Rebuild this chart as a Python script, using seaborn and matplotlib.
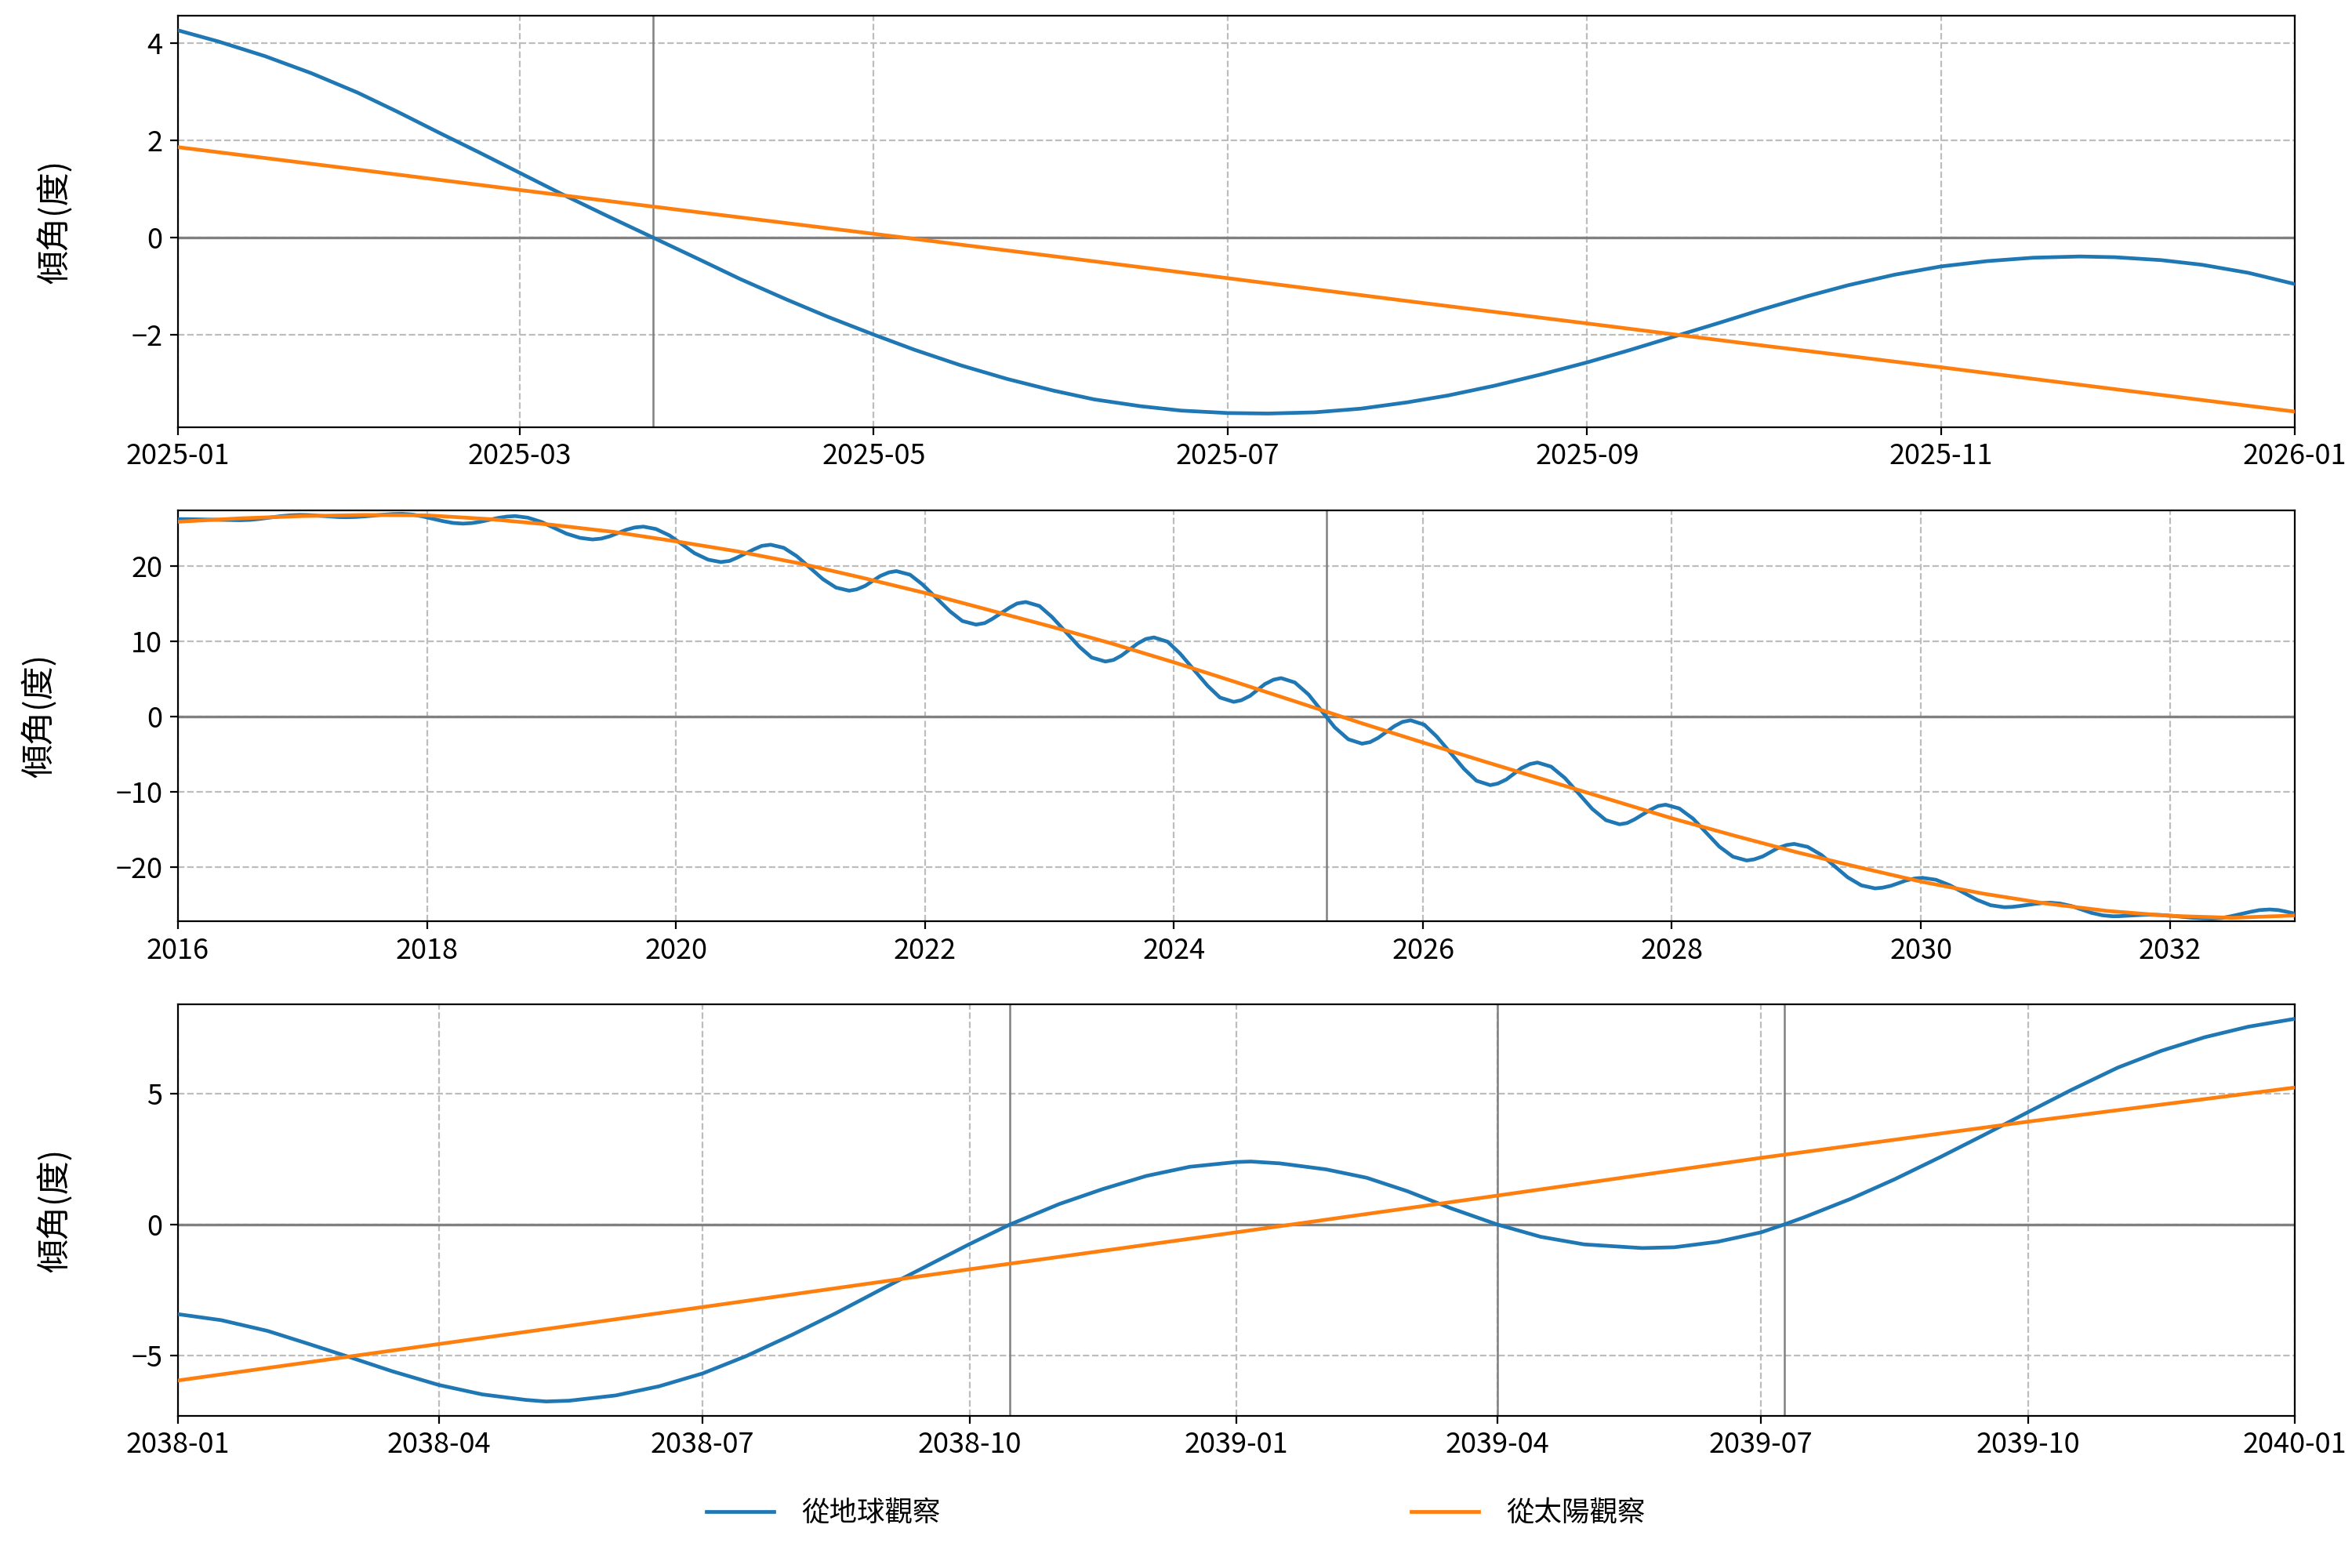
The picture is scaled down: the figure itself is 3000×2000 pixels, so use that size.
import numpy as np
import pandas as pd
import matplotlib
matplotlib.use('Agg')
import matplotlib.pyplot as plt
import matplotlib.dates as mdates
from matplotlib.ticker import MultipleLocator
import seaborn as sns

plt.rcParams['font.family'] = ['Noto Sans CJK TC', 'DejaVu Sans']
plt.rcParams['axes.unicode_minus'] = True

# ========== Data ==========
# Panel 1: 2025
top_earth_dates = ['2025-01-01', '2025-01-08', '2025-01-16', '2025-01-24', '2025-02-01', '2025-02-08',
                   '2025-02-15', '2025-02-22', '2025-03-01', '2025-03-08', '2025-03-16', '2025-03-24',
                   '2025-04-01', '2025-04-08', '2025-04-16', '2025-04-23', '2025-05-01', '2025-05-08',
                   '2025-05-16', '2025-05-24', '2025-06-01', '2025-06-08', '2025-06-16', '2025-06-23',
                   '2025-07-01', '2025-07-08', '2025-07-16', '2025-07-24', '2025-08-01', '2025-08-08',
                   '2025-08-16', '2025-08-24', '2025-09-01', '2025-09-08', '2025-09-16', '2025-09-24',
                   '2025-10-01', '2025-10-09', '2025-10-16', '2025-10-24', '2025-11-01', '2025-11-09',
                   '2025-11-17', '2025-11-25', '2025-12-01', '2025-12-09', '2025-12-16', '2025-12-24',
                   '2026-01-01']
top_earth_vals = [4.26, 4.03, 3.73, 3.38, 2.98, 2.58,
                  2.16, 1.75, 1.33, 0.91, 0.45, 0.00,
                  -0.45, -0.85, -1.27, -1.62, -1.99, -2.30,
                  -2.62, -2.90, -3.14, -3.32, -3.46, -3.55,
                  -3.60, -3.61, -3.586, -3.51, -3.38, -3.24,
                  -3.04, -2.81, -2.56, -2.32, -2.03, -1.74,
                  -1.48, -1.20, -0.976, -0.76, -0.59, -0.48,
                  -0.41, -0.385, -0.40, -0.46, -0.555, -0.72,
                  -0.95]
top_sun_dates = ['2025-01-01', '2025-02-01', '2025-03-01', '2025-04-01', '2025-05-01', '2025-06-01',
                 '2025-07-01', '2025-08-01', '2025-09-01', '2025-10-01', '2025-11-01', '2025-12-01',
                 '2026-01-01']
top_sun_vals = [1.86, 1.40, 0.98, 0.52, 0.08, -0.38, -0.83, -1.30, -1.76, -2.21, -2.66, -3.11, -3.57]
top_crossings = ['2025-03-24']
top_ylim = (-3.89, 4.56)

# Panel 2: 2016-2033 (decimal years)
mid_earth_years = [2016.00,
                   2016.083, 2016.167, 2016.25, 2016.333, 2016.417, 2016.50,
                   2016.58, 2016.66, 2016.74, 2016.82, 2016.90, 2016.98,
                   2017.04, 2017.10, 2017.17, 2017.23, 2017.29, 2017.35,
                   2017.425, 2017.50, 2017.575, 2017.65, 2017.725, 2017.80,
                   2017.88, 2017.96, 2018.045, 2018.13, 2018.21, 2018.29,
                   2018.36, 2018.43, 2018.50, 2018.57, 2018.64, 2018.71,
                   2018.81, 2018.92, 2019.02, 2019.12, 2019.23, 2019.33,
                   2019.40, 2019.47, 2019.535, 2019.60, 2019.67, 2019.74,
                   2019.84, 2019.95, 2020.05, 2020.15, 2020.26, 2020.36,
                   2020.43, 2020.49, 2020.56, 2020.63, 2020.69, 2020.76,
                   2020.865, 2020.97, 2021.075, 2021.18, 2021.285, 2021.39,
                   2021.45, 2021.52, 2021.58, 2021.64, 2021.71, 2021.77,
                   2021.88, 2021.98, 2022.09, 2022.20, 2022.30, 2022.41,
                   2022.48, 2022.54, 2022.61, 2022.68, 2022.74, 2022.81,
                   2022.92, 2023.02, 2023.13, 2023.24, 2023.34, 2023.45,
                   2023.515, 2023.58, 2023.645, 2023.71, 2023.775, 2023.84,
                   2023.95, 2024.05, 2024.16, 2024.27, 2024.37, 2024.48,
                   2024.54, 2024.61, 2024.67, 2024.73, 2024.80, 2024.86,
                   2024.97, 2025.08, 2025.185, 2025.29, 2025.40, 2025.51,
                   2025.575, 2025.64, 2025.705, 2025.77, 2025.835, 2025.90,
                   2026.01, 2026.11, 2026.22, 2026.33, 2026.43, 2026.54,
                   2026.60, 2026.67, 2026.73, 2026.79, 2026.86, 2026.92,
                   2027.03, 2027.14, 2027.25, 2027.36, 2027.47, 2027.58,
                   2027.64, 2027.70, 2027.765, 2027.83, 2027.89, 2027.95,
                   2028.06, 2028.17, 2028.275, 2028.38, 2028.49, 2028.60,
                   2028.66, 2028.73, 2028.79, 2028.85, 2028.92, 2028.98,
                   2029.09, 2029.20, 2029.305, 2029.41, 2029.52, 2029.63,
                   2029.69, 2029.76, 2029.82, 2029.88, 2029.95, 2030.01,
                   2030.12, 2030.23, 2030.34, 2030.45, 2030.56, 2030.67,
                   2030.73, 2030.79, 2030.855, 2030.92, 2030.98, 2031.04,
                   2031.12, 2031.21, 2031.29, 2031.37, 2031.46, 2031.54,
                   2031.59, 2031.64, 2031.69, 2031.74, 2031.79, 2031.84,
                   2031.92, 2032.01, 2032.09, 2032.17, 2032.26, 2032.34,
                   2032.42, 2032.49, 2032.57, 2032.65, 2032.72, 2032.80,
                   2032.87, 2032.93, 2033.00]
mid_earth_vals = [26.2,
                  26.19, 26.16, 26.13, 26.09, 26.06, 26.05,
                  26.10, 26.23, 26.40, 26.58, 26.70, 26.75,
                  26.73, 26.68, 26.60, 26.53, 26.47, 26.45,
                  26.48, 26.56, 26.675, 26.79, 26.87, 26.9,
                  26.81, 26.575, 26.25, 25.925, 25.69, 25.6,
                  25.67, 25.85, 26.10, 26.35, 26.53, 26.6,
                  26.39, 25.825, 25.05, 24.275, 23.71, 23.5,
                  23.61, 23.925, 24.35, 24.775, 25.09, 25.2,
                  24.885, 24.025, 22.85, 21.675, 20.815, 20.5,
                  20.65, 21.075, 21.65, 22.225, 22.65, 22.8,
                  22.39, 21.275, 19.75, 18.225, 17.11, 16.7,
                  16.87, 17.35, 18.0, 18.65, 19.13, 19.3,
                  18.82, 17.525, 15.75, 13.975, 12.68, 12.2,
                  12.40, 12.95, 13.70, 14.45, 15.0, 15.2,
                  14.67, 13.225, 11.25, 9.275, 7.83, 7.3,
                  7.51, 8.10, 8.90, 9.70, 10.29, 10.5,
                  9.93, 8.36, 6.225, 4.09, 2.52, 1.95,
                  2.16, 2.74, 3.525, 4.31, 4.89, 5.1,
                  4.52, 2.925, 0.75, -1.425, -3.02, -3.6,
                  -3.39, -2.825, -2.05, -1.275, -0.71, -0.5,
                  -1.08, -2.65, -4.80, -6.95, -8.52, -9.1,
                  -8.90, -8.35, -7.60, -6.85, -6.30, -6.1,
                  -6.65, -8.15, -10.2, -12.25, -13.75, -14.3,
                  -14.13, -13.65, -13.0, -12.35, -11.87, -11.7,
                  -12.20, -13.55, -15.4, -17.25, -18.60, -19.1,
                  -18.95, -18.55, -18.0, -17.45, -17.05, -16.9,
                  -17.30, -18.375, -19.85, -21.325, -22.40, -22.8,
                  -22.71, -22.45, -22.10, -21.75, -21.49, -21.4,
                  -21.66, -22.375, -23.35, -24.325, -25.04, -25.3,
                  -25.26, -25.15, -25.0, -24.85, -24.74, -24.7,
                  -24.82, -25.15, -25.6, -26.05, -26.38, -26.5,
                  -26.49, -26.45, -26.40, -26.35, -26.31, -26.3,
                  -26.33, -26.43, -26.55, -26.68, -26.77, -26.8,
                  -26.72, -26.50, -26.20, -25.90, -25.68, -25.6,
                  -25.68, -25.88, -26.15]
mid_sun_years = [2016.0, 2016.5, 2017.0, 2017.5, 2018.0, 2018.5, 2019.0, 2019.5, 2020.0, 2020.5,
                 2021.0, 2021.5, 2022.0, 2022.5, 2023.0, 2023.5, 2024.0, 2024.5, 2025.0, 2025.5,
                 2026.0, 2026.5, 2027.0, 2027.5, 2028.0, 2028.5, 2029.0, 2029.5, 2030.0, 2030.5,
                 2031.0, 2031.5, 2032.0, 2032.5, 2033.0]
mid_sun_vals = [25.85, 26.3, 26.6, 26.75, 26.7, 26.2, 25.45, 24.5, 23.25, 21.9,
                20.3, 18.4, 16.4, 14.2, 12.0, 9.7, 7.2, 4.55, 1.86, -0.85,
                -3.45, -6.0, -8.5, -11.0, -13.5, -15.8, -18.0, -20.0, -21.9, -23.5,
                -24.8, -25.8, -26.45, -26.7, -26.4]
mid_crossings = ['2025-03-24']
mid_ylim = (-27.2, 27.4)

# Panel 3: 2038-2039
bot_earth_dates = ['2038-01-01', '2038-01-16', '2038-02-01', '2038-02-15', '2038-03-01', '2038-03-16',
                   '2038-04-01', '2038-04-16', '2038-05-01', '2038-05-08', '2038-05-16', '2038-06-01',
                   '2038-06-16', '2038-07-01', '2038-07-16', '2038-08-01', '2038-08-16', '2038-09-01',
                   '2038-09-16', '2038-10-01', '2038-10-15', '2038-11-01', '2038-11-16', '2038-12-01',
                   '2038-12-16', '2039-01-01', '2039-01-06', '2039-01-16', '2039-02-01', '2039-02-15',
                   '2039-03-01', '2039-03-16', '2039-04-01', '2039-04-16', '2039-05-01', '2039-05-21',
                   '2039-06-01', '2039-06-16', '2039-07-01', '2039-07-09', '2039-07-16', '2039-08-01',
                   '2039-08-16', '2039-09-01', '2039-09-16', '2039-10-01', '2039-10-16', '2039-11-01',
                   '2039-11-16', '2039-12-01', '2039-12-16', '2040-01-01']
bot_earth_vals = [-3.42, -3.65, -4.06, -4.55, -5.05, -5.60,
                  -6.12, -6.48, -6.69, -6.75, -6.72, -6.52,
                  -6.17, -5.68, -5.02, -4.20, -3.38, -2.45,
                  -1.60, -0.75, 0.00, 0.78, 1.35, 1.85,
                  2.20, 2.38, 2.40, 2.33, 2.10, 1.78,
                  1.27, 0.62, 0.00, -0.47, -0.76, -0.90,
                  -0.87, -0.66, -0.30, 0.00, 0.28, 0.98,
                  1.72, 2.58, 3.42, 4.28, 5.13, 5.98,
                  6.62, 7.14, 7.54, 7.84]
bot_sun_dates = ['2038-01-01', '2038-04-01', '2038-07-01', '2038-10-01', '2039-01-01',
                 '2039-04-01', '2039-07-01', '2039-10-01', '2040-01-01']
bot_sun_vals = [-5.95, -4.56, -3.15, -1.71, -0.30, 1.10, 2.54, 3.92, 5.22]
bot_crossings = ['2038-10-15', '2039-04-01', '2039-07-09']
bot_ylim = (-7.3, 8.39)

label_earth = '從地球觀察'
label_sun = '從太陽觀察'
ylabel = '傾角(度)'
c_earth = '#1f77b4'
c_sun = '#ff7f0e'


def year_to_date(y):
    yr = int(np.floor(y))
    start = pd.Timestamp(yr, 1, 1)
    length = (pd.Timestamp(yr + 1, 1, 1) - start).days
    return start + pd.Timedelta(days=(y - yr) * length)


panels = [
    (pd.to_datetime(top_earth_dates), top_earth_vals, pd.to_datetime(top_sun_dates), top_sun_vals,
     top_crossings, top_ylim, 2, mdates.MonthLocator(bymonth=[1, 3, 5, 7, 9, 11]), '%Y-%m'),
    (pd.DatetimeIndex([year_to_date(y) for y in mid_earth_years]), mid_earth_vals,
     pd.DatetimeIndex([year_to_date(y) for y in mid_sun_years]), mid_sun_vals,
     mid_crossings, mid_ylim, 10, mdates.YearLocator(2), '%Y'),
    (pd.to_datetime(bot_earth_dates), bot_earth_vals, pd.to_datetime(bot_sun_dates), bot_sun_vals,
     bot_crossings, bot_ylim, 5, mdates.MonthLocator(bymonth=[1, 4, 7, 10]), '%Y-%m'),
]

fig, axes = plt.subplots(3, 1, figsize=(15, 10), dpi=200)
fig.subplots_adjust(left=0.0756, right=0.9756, top=0.990, bottom=0.097, hspace=0.2015)

for ax, (xe, ye, xs, ys, cross, ylim, ystep, locator, fmt) in zip(axes, panels):
    ax.grid(True, linestyle='--', color='#bdbdbd', linewidth=0.8, zorder=0)
    ax.axhline(0, color='gray', linewidth=1.2, zorder=1)
    for d in cross:
        ax.axvline(pd.Timestamp(d), color='gray', linewidth=0.9, zorder=1)
    sns.lineplot(x=xe, y=ye, ax=ax, color=c_earth, linewidth=1.7, label=label_earth, zorder=3)
    sns.lineplot(x=xs, y=ys, ax=ax, color=c_sun, linewidth=1.7, label=label_sun, zorder=3)
    ax.set_xlim(xe[0], xe[-1])
    ax.set_ylim(*ylim)
    ax.yaxis.set_major_locator(MultipleLocator(ystep))
    ax.xaxis.set_major_locator(locator)
    ax.xaxis.set_major_formatter(mdates.DateFormatter(fmt))
    ax.set_xlabel('')
    ax.set_ylabel(ylabel, fontsize=15.5, labelpad=27)
    ax.tick_params(labelsize=13)
    ax.set_axisbelow(True)
    ax.get_legend().remove()

handles, labels = axes[0].get_legend_handles_labels()
fig.legend(handles, labels, loc='center', bbox_to_anchor=(0.5, 0.035), ncol=2, frameon=False,
           fontsize=12.8, handlelength=2.4, handletextpad=1.0, columnspacing=16.9)

plt.savefig('out.png', dpi=200)
